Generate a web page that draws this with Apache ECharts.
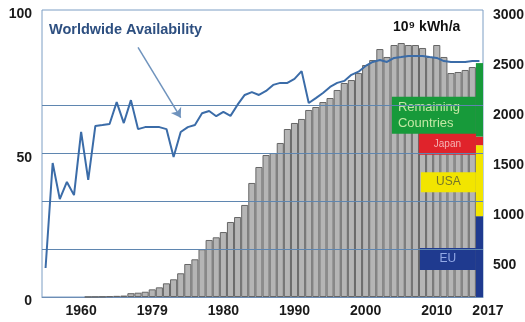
<!DOCTYPE html>
<html><head><meta charset="utf-8">
<script src="https://cdn.jsdelivr.net/npm/echarts@6/dist/echarts.min.js"></script>
<style>html,body{margin:0;padding:0;background:#fff}#c{width:525px;height:322px}</style>
</head><body><div id="c"></div>
<script>
// ---- data ----
const years = ['1955','1956','1957','1958','1959','1960','1961','1962','1963','1964',
  '1965','1966','1967','1968','1969','1970','1971','1972','1973','1974',
  '1975','1976','1977','1978','1979','1980','1981','1982','1983','1984',
  '1985','1986','1987','1988','1989','1990','1991','1992','1993','1994',
  '1995','1996','1997','1998','1999','2000','2001','2002','2003','2004',
  '2005','2006','2007','2008','2009','2010','2011','2012','2013','2014',
  '2015','2016'];
// Worldwide availability, % (left axis)
const availability = [10.1,46.7,34.1,40.1,35.5,57.5,40.8,59.6,59.9,60.3,
  67.9,60.6,68.6,58.5,59.2,59.2,59.2,58.5,48.8,57.5,
  59.2,59.9,64.0,64.8,63.0,64.5,63.1,67.0,70.4,71.4,
  70.4,71.8,73.9,74.6,74.6,76.0,78.7,67.6,69.3,71.1,
  73.2,74.6,75.3,77.4,78.5,80.5,81.9,82.6,81.9,83.3,
  83.6,84.0,84.0,84.0,83.6,83.3,82.2,81.9,81.9,81.9,
  82.2,82.2];
// Generation, 10^9 kWh/a (right axis)
const generation = [null,null,null,null,null,null,1,2,4,8,
  12,15,40,45,55,80,101,143,185,248,
  345,394,499,596,624,679,784,836,962,1192,
  1359,1484,1505,1610,1756,1819,1861,1955,1986,2038,
  2080,2164,2237,2268,2341,2425,2477,2592,2509,2634,
  2655,2634,2634,2603,2509,2634,2509,2341,2352,2373,
  2404,null];
// Split of the last year by region
const regionNames = ['EU','USA','Japan','Remaining\nCountries'];
const regionValues = [845,742,90,768];
const leftTickValues = [0,50,100];
const rightTickValues = [500,1000,1500,2000,2500,3000];
const gridLineValues = [500,1000,1500,2000];
const xTickYears = ['1960','1970','1980','1990','2000','2010','2016'];
const xTickLabels = ['1960','1979','1980','1990','2000','2010','2017'];

// ---- chart ----
const FONT = '"Liberation Sans", Arial, sans-serif';
const regionStyles = [
  {bg:'#1f3a8f', fg:'#93a9e6', w:56, h:22, fs:12, dy:2.5},
  {bg:'#f2e500', fg:'#75752a', w:55, h:20, fs:12, dy:1.5},
  {bg:'#e0232b', fg:'#f5b3b3', w:57, h:22, fs:10, dy:3},
  {bg:'#179a3a', fg:'#c2e8a4', w:78, h:37, fs:13, dy:15.5, left:true}
];
const last = years.length - 1;

const regionSeries = regionNames.map((name, k) => {
  const s = regionStyles[k];
  const label = s.left ? {
    show:true, position:'left', distance:0.01, align:'left', verticalAlign:'middle',
    width:s.w, height:s.h, lineHeight:16, padding:[0,0,0,6],
    offset:[-(s.w+6), s.dy], backgroundColor:s.bg, color:s.fg,
    fontFamily:FONT, fontSize:s.fs, formatter:p=>p.seriesName
  } : {
    show:true, position:'left', distance:0.01, align:'center', verticalAlign:'middle',
    width:s.w, height:s.h, lineHeight:s.h, padding:0,
    offset:[-s.w/2, s.dy], backgroundColor:s.bg, color:s.fg,
    fontFamily:FONT, fontSize:s.fs, formatter:p=>p.seriesName
  };
  return {
    name, type:'bar', stack:'gen', yAxisIndex:1, barCategoryGap:'0%', z:3,
    itemStyle:{color:s.bg, borderWidth:0},
    label,
    data: years.map((y,i)=> i===last ? regionValues[k] : null)
  };
});

const axisFont = {fontFamily:FONT, fontWeight:'bold', fontSize:14, color:'#1a1a1a'};

const chart = echarts.init(document.getElementById('c'), null, {renderer:'canvas'});
chart.setOption({
  animation:false,
  backgroundColor:'#ffffff',
  grid:{left:42, right:42, top:10, bottom:25, outerBoundsMode:'none', containLabel:false,
        show:true, borderColor:'#7d9ec4', borderWidth:1},
  xAxis:{
    type:'category', data:years, boundaryGap:true,
    axisLine:{lineStyle:{color:'#6d8db5'}}, axisTick:{show:false},
    axisLabel:Object.assign({
      interval:(i,v)=>xTickYears.includes(v),
      formatter:(v)=>{ const k = xTickYears.indexOf(v); const t = xTickLabels[k];
        return k===xTickYears.length-1 ? '{e|'+t+'}' : t; },
      rich:{e:Object.assign({padding:[0,0,0,17]}, axisFont)},
      margin:7
    }, axisFont),
    splitLine:{show:false}
  },
  yAxis:[
    {type:'value', position:'left', min:0, max:100, interval:50,
     axisLine:{show:false}, axisTick:{show:false}, splitLine:{show:false},
     axisLabel:Object.assign({customValues:leftTickValues, margin:10,
       formatter:v=>'{a|'+v+'}',
       rich:{a:Object.assign({padding:[9,0,0,0]}, axisFont)}}, axisFont)},
    {type:'value', min:0, max:3000, show:false, splitLine:{show:false}},
    {type:'value', position:'right', min:180, max:3050,
     axisLine:{show:false}, axisTick:{show:false}, splitLine:{show:false},
     axisLabel:Object.assign({customValues:rightTickValues, margin:10,
       formatter:v=>String(v)}, axisFont)}
  ],
  graphic:[
    {type:'text', left:49, top:22, silent:true,
     style:{text:'Worldwide Availability', font:'bold 14.5px '+FONT, fill:'#2d4f80'}},
    {type:'text', left:393, top:20, silent:true,
     style:{text:'10\u2079 kWh/a', font:'bold 14px '+FONT, fill:'#111111'}}
  ],
  series:[
    {name:'grid', type:'line', yAxisIndex:1, z:1, silent:true, symbol:'none',
     data: years.map(()=>null),
     markLine:{silent:true, symbol:'none', animation:false,
       lineStyle:{color:'#5f86b0', width:1, type:'solid'}, label:{show:false},
       data: gridLineValues.map(v=>({yAxis:v}))}},
    {name:'Generation', type:'bar', stack:'gen', yAxisIndex:1, barCategoryGap:'0%', z:2,
     itemStyle:{color:'#b5b5b5', borderColor:'#666666', borderWidth:1},
     data: generation},
    ...regionSeries,
    {name:'Worldwide Availability', type:'line', yAxisIndex:0, z:5, symbol:'none',
     lineStyle:{color:'#3b6ca8', width:2}, data: availability,
     markLine:{silent:true, symbol:['none','arrow'], symbolSize:9, animation:false,
       lineStyle:{color:'#6f93bd', width:1.5, type:'solid'}, label:{show:false},
       data:[[{coord:['1968',87]},{coord:['1974',62.5]}]]}}
  ]
});
</script></body></html>
